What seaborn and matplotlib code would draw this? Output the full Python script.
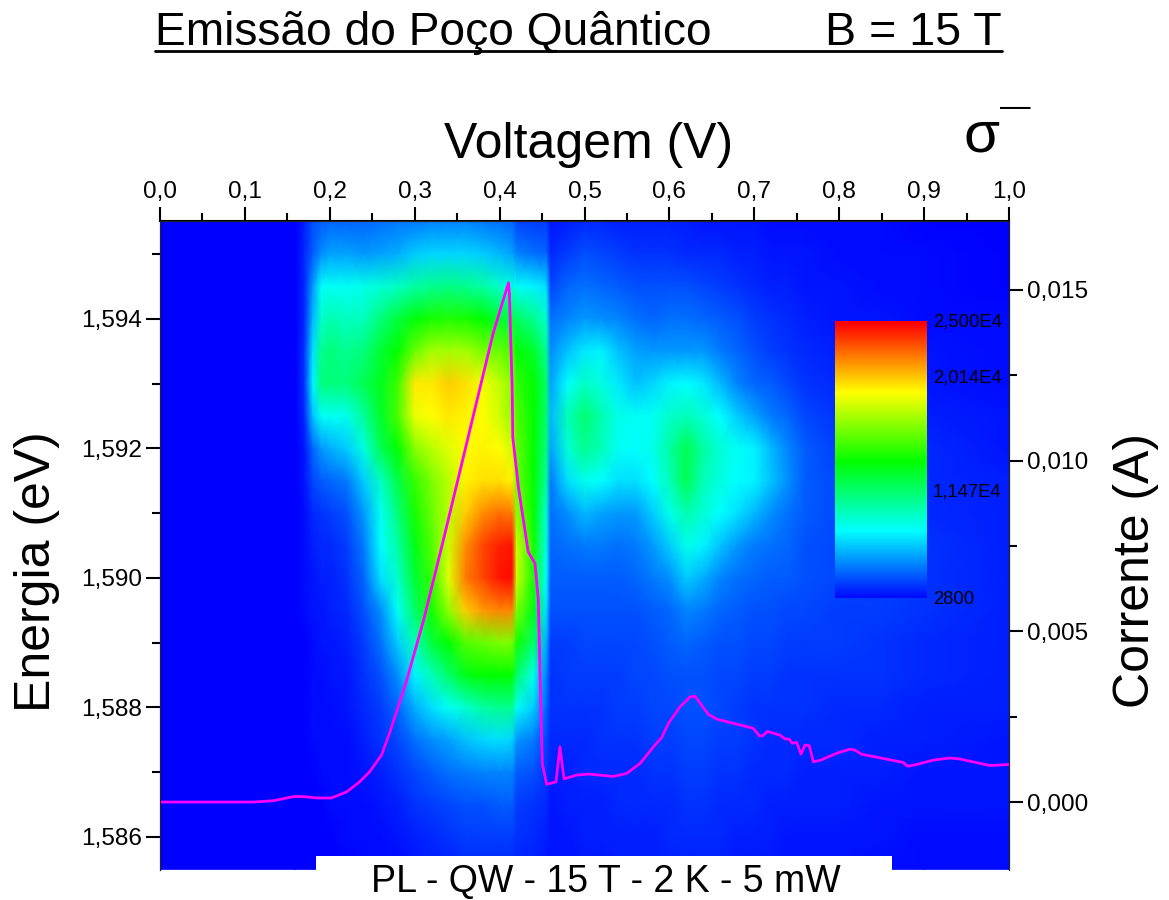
import numpy as np
import matplotlib
matplotlib.use("Agg")
import matplotlib.pyplot as plt
from matplotlib.colors import LinearSegmentedColormap
from matplotlib.lines import Line2D
from matplotlib.patches import Rectangle
from matplotlib.ticker import MultipleLocator, FuncFormatter
import seaborn as sns

W, H = 1169, 900

voltage_grid = [0.0, 0.16, 0.17, 0.18, 0.19, 0.20, 0.22, 0.24, 0.26, 0.28, 0.30, 0.32, 0.34, 0.36, 0.38, 0.40,
                0.415, 0.42, 0.44, 0.455, 0.46, 0.48, 0.50, 0.52, 0.54, 0.56, 0.58, 0.60, 0.62, 0.64, 0.66, 0.68,
                0.70, 0.72, 0.74, 0.76, 0.80, 0.85, 0.90, 1.0]
energy_grid = [1595.5, 1595.0, 1594.5, 1594.0, 1593.5, 1593.0, 1592.5, 1592.0, 1591.5, 1591.0, 1590.5,
               1590.0, 1589.5, 1589.0, 1588.5, 1588.0, 1587.5, 1587.0, 1586.5, 1586.0, 1585.5]
pl_percent = [
 [0,0,3,8,9,10,10,10,11,12,12,13,13,13,12,11,10,7,6,6, 2,3,4,4,3,3,3,3,3,2,2,2,2,1,1,1,1,1,0,0],
 [0,0,4,9,14,16,16,15,16,17,20,21,21,21,20,18,16,13,11,10, 4,6,8,7,6,5,5,5,4,4,4,3,3,2,2,2,1,1,1,0],
 [0,0,4,15,26,26,26,27,29,31,34,36,37,36,34,30,28,26,24,22, 7,10,11,10,9,8,8,8,8,7,6,5,4,3,3,2,2,1,1,0],
 [0,0,4,18,30,33,31,32,38,44,49,52,53,52,50,45,44,41,36,30, 11,13,15,14,13,11,10,11,11,10,9,8,6,5,4,3,2,2,1,1],
 [0,0,5,22,36,38,36,38,45,50,60,66,66,66,62,60,57,50,46,36, 14,19,23,24,19,16,15,15,15,15,12,10,8,6,5,4,3,2,2,1],
 [0,0,5,24,38,38,38,42,47,56,77,77,80,78,74,69,63,55,50,40, 16,25,31,28,23,19,21,24,25,23,18,13,10,9,7,5,4,3,2,1],
 [0,0,4,19,26,26,27,35,46,57,73,75,77,76,75,70,64,58,50,40, 18,32,39,33,27,26,26,30,32,29,25,20,16,12,10,7,5,4,3,2],
 [0,0,2,10,15,17,20,28,42,50,63,68,72,75,76,75,70,60,50,38, 16,29,36,32,26,25,27,34,42,34,29,26,24,18,13,9,6,5,4,2],
 [0,0,2,7,9,10,12,20,31,43,55,62,68,76,78,78,76,60,50,35, 12,22,27,25,22,22,25,32,42,32,28,25,24,19,14,9,7,6,4,3],
 [0,0,1,4,5,6,8,15,26,38,52,60,68,80,86,89,88,64,50,30, 11,14,18,16,15,15,20,27,33,29,25,22,18,14,11,9,7,6,4,3],
 [0,0,1,3,4,4,6,12,25,34,48,58,70,86,93,97,98,70,52,28, 10,11,12,12,11,12,15,20,27,24,19,15,12,11,10,8,7,6,5,3],
 [0,0,1,2,3,3,5,10,22,30,45,55,72,88,93,98,99,70,52,25, 9,9,9,9,9,10,12,14,20,17,13,11,10,9,9,8,7,6,5,3],
 [0,0,1,2,2,3,4,8,14,26,40,52,64,80,85,87,87,62,48,22, 8,8,8,8,8,8,9,10,13,12,10,9,8,8,7,7,6,6,5,3],
 [0,0,0,1,2,2,3,6,11,20,32,44,50,58,60,62,62,52,40,17, 6,6,7,7,7,7,8,9,10,9,8,8,7,7,6,6,6,5,4,3],
 [0,0,0,1,1,2,2,5,8,14,24,32,40,48,50,50,50,40,27,13, 5,6,6,6,6,7,7,8,8,8,7,7,6,6,5,5,5,5,4,3],
 [0,0,0,1,1,1,2,4,6,10,17,22,26,30,34,36,36,26,20,10, 5,5,5,5,6,6,7,7,8,8,7,6,5,5,5,5,4,4,3,3],
 [0,0,0,1,1,1,1,3,5,7,11,14,16,19,21,22,21,15,12,7, 4,4,4,5,5,5,6,6,7,7,6,6,5,4,4,4,4,3,3,2],
 [0,0,0,0,1,1,1,2,3,5,7,9,11,12,13,13,13,9,8,5, 3,3,4,4,4,4,5,5,6,6,5,5,4,4,4,3,3,3,2,2],
 [0,0,0,0,0,1,1,1,2,3,5,6,7,8,8,9,9,6,5,4, 2,3,3,3,4,4,4,4,5,5,4,4,4,3,3,3,3,2,2,2],
 [0,0,0,0,0,0,1,1,1,2,3,4,5,6,6,6,6,5,4,3, 2,2,3,3,3,3,3,4,4,4,4,3,3,3,2,2,2,2,1,1],
 [0,0,0,0,0,0,0,1,1,1,2,3,3,4,4,4,4,3,3,2, 2,2,2,2,3,3,3,3,3,3,3,2,2,2,2,2,2,1,1,1],
]
scale_min, scale_max = 2800, 25000

current_v = [0.0, 0.11, 0.134, 0.157, 0.169, 0.1845, 0.202, 0.22, 0.2355, 0.247, 0.261, 0.271, 0.29, 0.3105,
             0.3337, 0.3925, 0.4105, 0.4115, 0.4148, 0.4155, 0.4221, 0.428, 0.4337, 0.4417, 0.4456, 0.4476,
             0.4503, 0.4554, 0.4664, 0.4711, 0.4759, 0.4908, 0.5045, 0.534, 0.5497, 0.5654, 0.583, 0.591,
             0.5987, 0.6125, 0.6243, 0.6302, 0.6458, 0.6557, 0.6988, 0.7059, 0.7099, 0.7153, 0.7303, 0.7362,
             0.7412, 0.7448, 0.7499, 0.755, 0.7597, 0.7648, 0.7695, 0.7774, 0.7971, 0.8127, 0.8186, 0.8265,
             0.8755, 0.8806, 0.8913, 0.9108, 0.9305, 0.9423, 0.9776, 1.0]
current_a = [0.0, 0.0, 0.00004, 0.00016, 0.00016, 0.00012, 0.00012, 0.0003, 0.0006, 0.00089, 0.00138, 0.00206,
             0.00352, 0.00533, 0.00767, 0.01374, 0.01521, 0.0149, 0.01216, 0.0107, 0.00924, 0.00826, 0.00733,
             0.00699, 0.00592, 0.00377, 0.00113, 0.00052, 0.00059, 0.00162, 0.00068, 0.00079, 0.00082, 0.00075,
             0.00084, 0.00113, 0.00167, 0.00189, 0.0023, 0.00279, 0.00308, 0.0031, 0.00257, 0.00243, 0.00216,
             0.00194, 0.00194, 0.00207, 0.00196, 0.00185, 0.00184, 0.00172, 0.00175, 0.0014, 0.00167, 0.00165,
             0.00118, 0.00122, 0.00143, 0.00155, 0.00152, 0.0014, 0.00116, 0.00105, 0.0011, 0.00123, 0.00129,
             0.00126, 0.00107, 0.0011]

scale_labels = ["2,500E4", "2,014E4", "1,147E4", "2800"]
scale_label_y = [322, 378, 492, 600]
title_left = "Emissão do Poço Quântico"
title_right = "B = 15 T"
bottom_label = "PL - QW - 15 T - 2 K - 5 mW"

sns.set_theme(style="ticks")
plt.rcParams["font.family"] = ["Liberation Sans", "DejaVu Sans"]

FX = lambda px: px / W
FY = lambda py: 1 - py / H

fig = plt.figure(figsize=(W / 100, H / 100), dpi=100, facecolor="white")
ax = fig.add_axes([FX(160), FY(870), 849 / W, 649 / H])

rainbow = LinearSegmentedColormap.from_list(
    "pl", ["#0000ff", "#00ffff", "#00ff00", "#ffff00", "#ff0000"], N=512)
intensity = scale_min + np.array(pl_percent, dtype=float) / 100 * (scale_max - scale_min)
mesh = ax.pcolormesh(voltage_grid, energy_grid, intensity, shading="gouraud",
                     cmap=rainbow, vmin=scale_min, vmax=scale_max, rasterized=True)
ax.set_xlim(0, 1)
ax.set_ylim(1585.49, 1595.51)

comma = lambda fmt: FuncFormatter(lambda v, _: (fmt % v).replace(".", ","))
ax.xaxis.tick_top()
ax.xaxis.set_major_locator(MultipleLocator(0.1))
ax.xaxis.set_minor_locator(MultipleLocator(0.05))
ax.xaxis.set_major_formatter(comma("%.1f"))
ax.yaxis.set_major_locator(MultipleLocator(2))
ax.yaxis.set_minor_locator(MultipleLocator(1))
ax.yaxis.set_major_formatter(FuncFormatter(lambda v, _: ("%.3f" % (v / 1000)).replace(".", ",")))

ax2 = ax.twinx()
sns.lineplot(x=current_v, y=current_a, ax=ax2, color="#ff00ff", linewidth=2.0,
             sort=False, estimator=None, legend=False)
ax2.set_xlim(0, 1)
ax2.set_ylim(-0.00199, 0.01702)
ax2.yaxis.set_major_locator(MultipleLocator(0.005))
ax2.yaxis.set_minor_locator(MultipleLocator(0.0025))
ax2.yaxis.set_major_formatter(comma("%.3f"))
ax2.set_xlabel("")
ax2.set_ylabel("")

for a in (ax, ax2):
    a.tick_params(which="major", length=10, width=1.5, labelsize=17.6, color="black", labelcolor="black", pad=3)
    a.tick_params(which="minor", length=5.5, width=1.5, color="black")
    for s in a.spines.values():
        s.set_linewidth(0.8)
        s.set_color("#222222")
    a.spines["bottom"].set_visible(False)
    a.spines["top"].set_visible(True)
ax.spines["top"].set_linewidth(1.5)
ax.spines["top"].set_color("black")

# embedded colour scale
cax = fig.add_axes([FX(835), FY(598), 92 / W, 277 / H], zorder=5)
cb = fig.colorbar(mesh, cax=cax, ticks=[])
cb.outline.set_visible(False)
cb.solids.set_edgecolor("face")
for lab, y in zip(scale_labels, scale_label_y):
    fig.text(FX(933), FY(y), lab, fontsize=13.3, color="black", va="center", ha="left", zorder=6)

# bottom caption box
fig.add_artist(Rectangle((FX(316), FY(880)), 576 / W, 24 / H, transform=fig.transFigure,
                         facecolor="white", edgecolor="none", zorder=3))
fig.text(FX(606), FY(882), bottom_label, fontsize=27, ha="center", va="center", color="black", zorder=4)

# title
fig.text(FX(155), FY(45), title_left, fontsize=33.2, ha="left", va="baseline", color="black")
fig.text(FX(1002), FY(45), title_right, fontsize=33.6, ha="right", va="baseline", color="black")
fig.add_artist(Line2D([FX(155), FX(1002)], [FY(50.5), FY(50.5)], transform=fig.transFigure,
                      color="black", linewidth=2.0))

fig.text(FX(589), FY(158), "Voltagem (V)", fontsize=36, ha="center", va="baseline", color="black")
fig.text(FX(982), FY(151), "σ", fontsize=42, ha="center", va="baseline", color="black")
fig.text(FX(1015), FY(108), "—", fontsize=22, ha="center", va="center", color="black")
fig.text(FX(37), FY(572), "Energia (eV)", fontsize=36, rotation=90, ha="center", va="center", color="black")
fig.text(FX(1136), FY(571), "Corrente (A)", fontsize=36, rotation=90, ha="center", va="center", color="black")

fig.savefig("out.png", dpi=100, facecolor="white")
